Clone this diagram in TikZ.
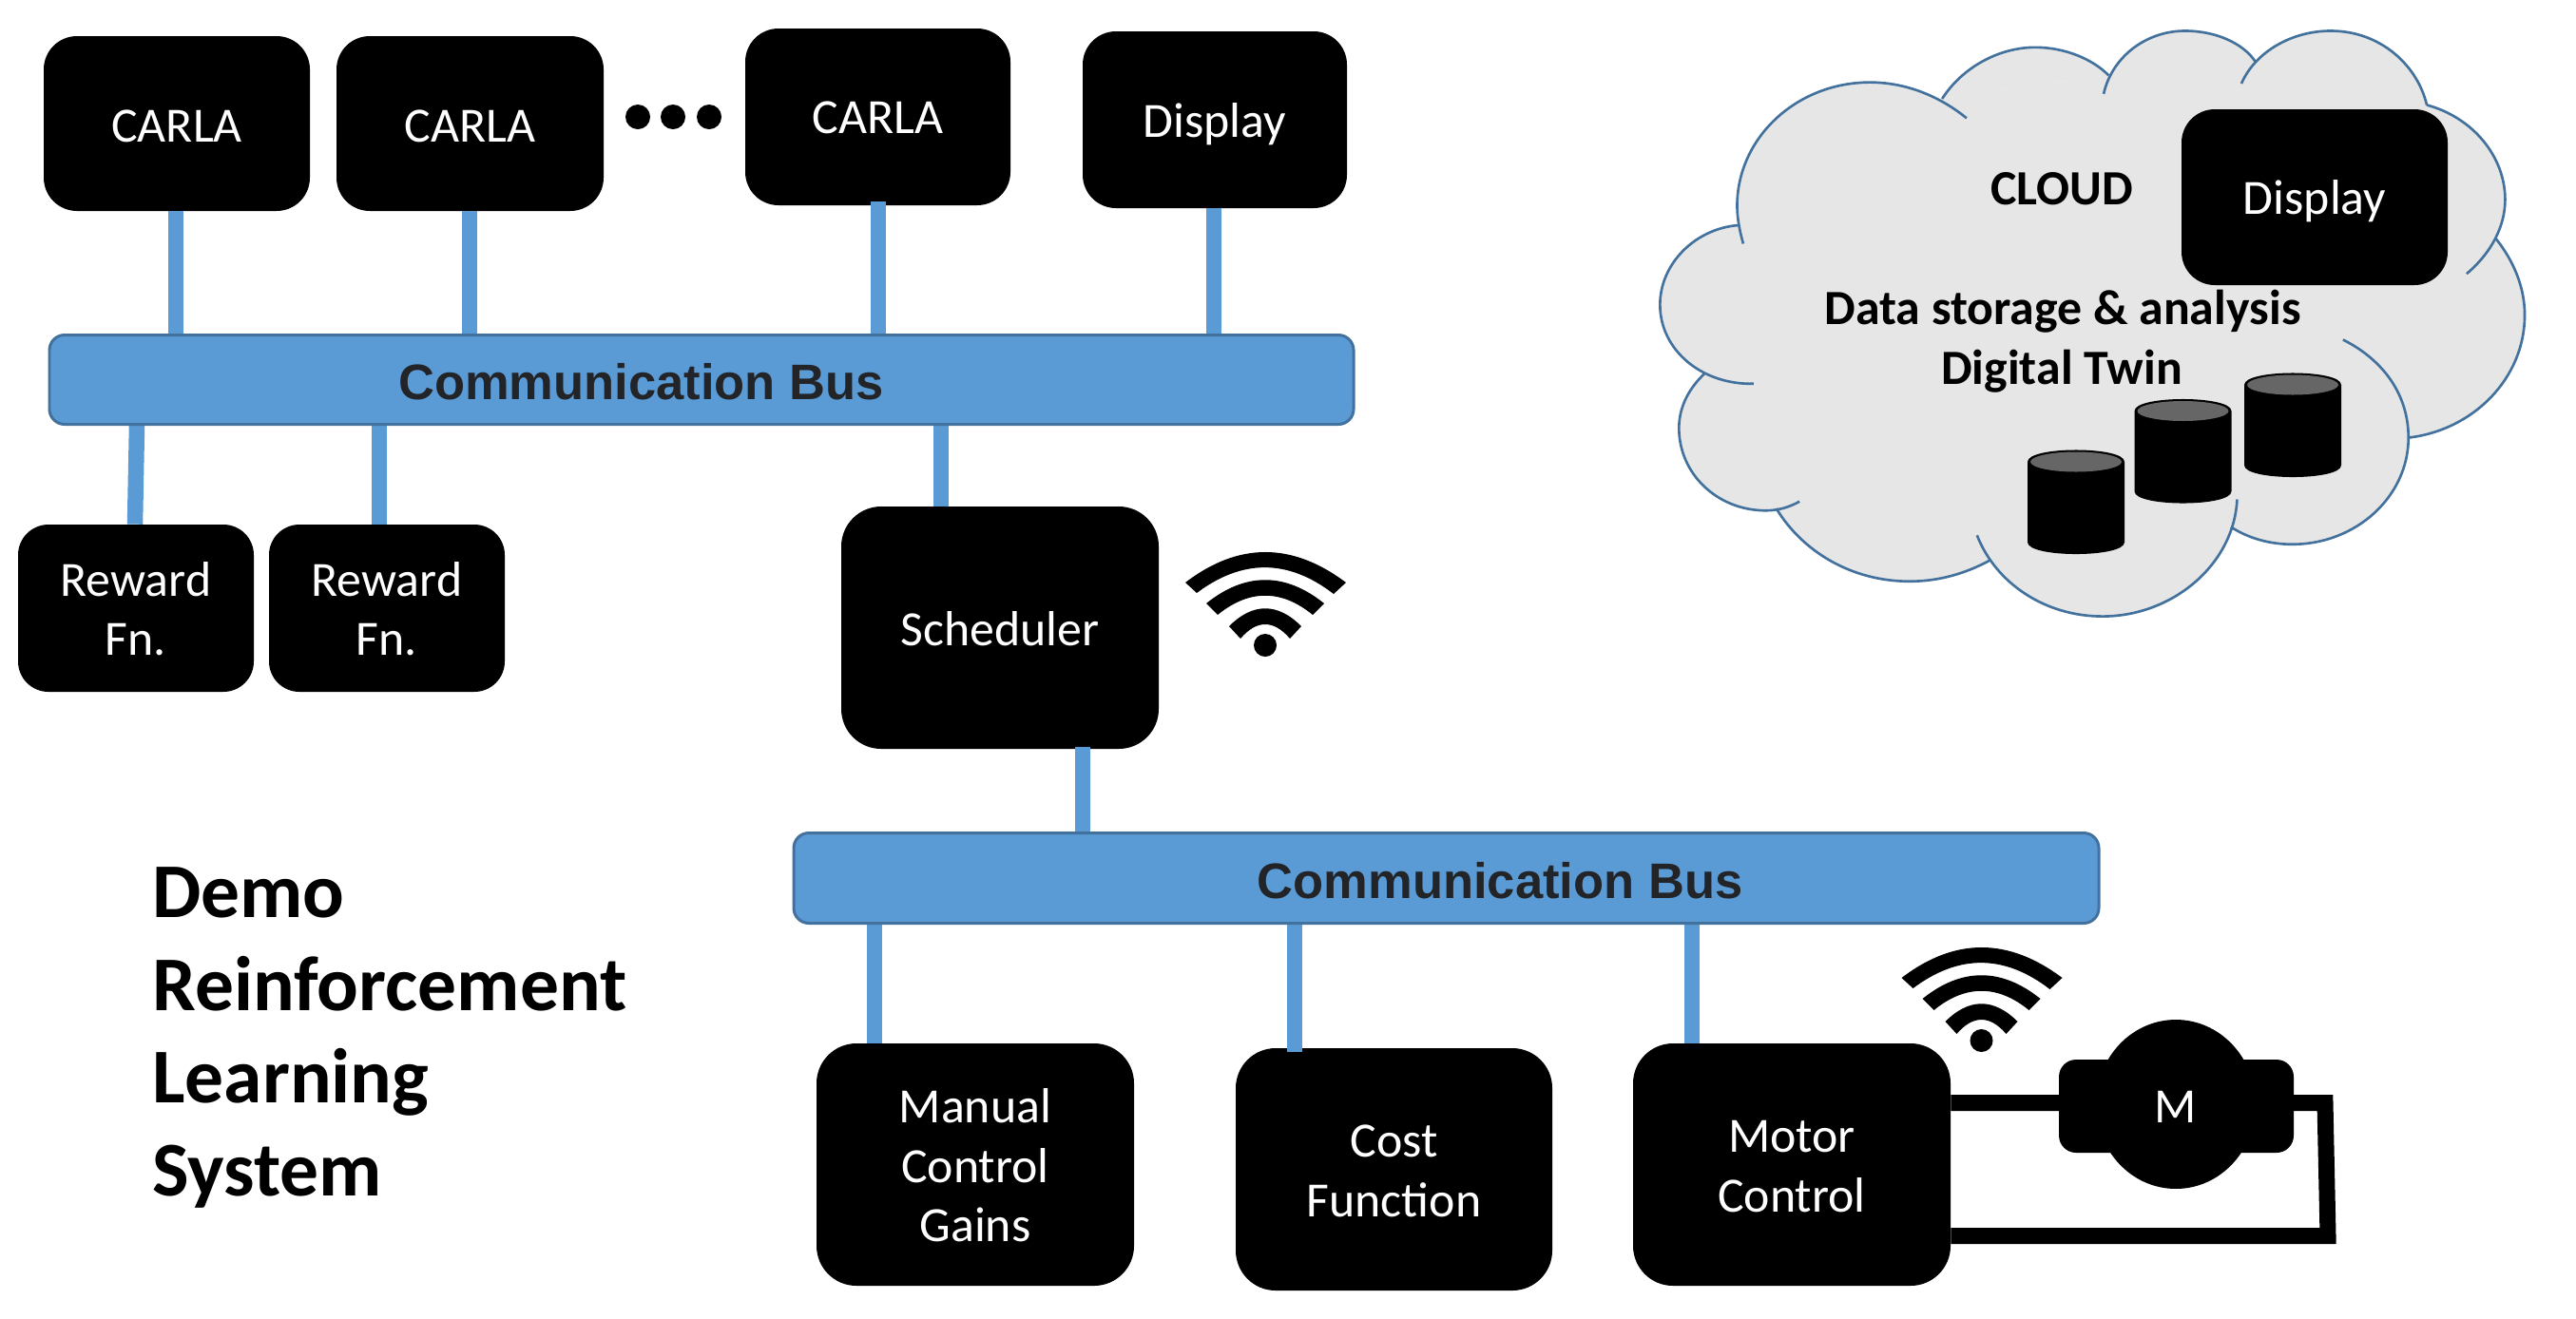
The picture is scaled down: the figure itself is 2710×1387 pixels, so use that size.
\documentclass[tikz,border=0pt]{standalone}
\usepackage{fontspec}
\setmainfont{Carlito}
\newfontfamily\busfamily{Liberation Sans}
\usetikzlibrary{shapes.geometric}
\pgfdeclarelayer{boxes}
\pgfdeclarelayer{conn}
\pgfsetlayers{boxes,conn,main}
\definecolor{busblue}{HTML}{5B9BD5}
\definecolor{busedge}{HTML}{41719C}
\definecolor{cloudgray}{HTML}{E6E6E6}
\definecolor{bustext}{HTML}{222428}
\definecolor{capgray}{HTML}{666666}
\newcommand{\lowone}[1]{\raisebox{-1.4pt}[\height][\depth]{#1}}
\newcommand{\lowhalf}[1]{\raisebox{-0.6pt}[\height][\depth]{#1}}
\newcommand{\lowmany}[1]{\raisebox{-3.4pt}[\height][\depth]{\begin{tabular}{@{}c@{}}#1\end{tabular}}}
\tikzset{
  blackbox/.style n args={3}{fill=black,text=white,inner sep=0pt,
    font=\fontsize{29.5pt}{35.7pt}\selectfont,
    minimum width=#1*0.02cm,minimum height=#2*0.02cm,rounded corners=#3*0.02cm},
  busbar/.style n args={2}{fill=busblue,draw=busedge,line width=1.7pt,inner sep=0pt,
    minimum width=#1*0.02cm,minimum height=#2*0.02cm,rounded corners=0.32cm},
  buslabel/.style={text=bustext,inner sep=0pt,font=\busfamily\bfseries\fontsize{29.9pt}{35pt}\selectfont},
  busline/.style={draw=busblue,line width=0.33cm},
  wire/.style={draw=black,line width=0.34cm,miter limit=10},
  cloudfill/.style={fill=cloudgray},
  cloudline/.style={draw=busedge,line width=1.5pt},
  cloudtext/.style={inner sep=0pt,anchor=base,font=\bfseries\fontsize{29.5pt}{35pt}\selectfont},
  titletext/.style={inner sep=0pt,anchor=west,align=left,font=\bfseries\fontsize{46.4pt}{55.7pt}\selectfont},
  dbcyl/.pic={
    \fill[black] (-51,12.5) -- (-51,97) .. controls (-51,113.7) and (51,113.7) .. (51,97)
      -- (51,12.5) .. controls (51,-4.2) and (-51,-4.2) .. (-51,12.5) -- cycle;
    \fill[capgray] (0,12.5) ellipse [x radius=48,y radius=10.5];
  },
  wifisign/.pic={
    \fill[black] (0,0) circle [radius=12];
    \fill[black] (-84,-66) .. controls (-28,-108.7) and (28,-108.7) .. (85,-66)
      -- (72,-54) .. controls (24,-91) and (-24,-91) .. (-72,-55) -- cycle;
    \fill[black] (-62,-44) .. controls (-21,-77) and (21,-77) .. (62,-44)
      -- (50,-32) .. controls (17,-59) and (-17,-59) .. (-50,-32) -- cycle;
    \fill[black] (-38,-20) .. controls (-13,-45) and (13,-45) .. (38,-20)
      -- (26,-7) .. controls (9,-27) and (-9,-27) .. (-26,-7) -- cycle;
  }
}
\newcommand{\cloudfilllobe}[1]{\fill[cloudfill] #1;}
\newcommand{\cloudstrokelobe}[1]{\draw[cloudline] #1;}
\newcommand{\cloudlobes}[1]{%
  #1{(533,240) .. controls (565,165) and (625,115) .. (685,115) .. controls (735,115) and (780,145) .. (805,183)}
  #1{(797,228) .. controls (810,140) and (865,75) .. (930,75) .. controls (980,75) and (1025,105) .. (1045,150)}
  #1{(1022,203) .. controls (1045,125) and (1105,75) .. (1168,75) .. controls (1250,75) and (1310,160) .. (1325,255)}
  #1{(1325,255) .. controls (1400,285) and (1453,380) .. (1453,485) .. controls (1453,550) and (1430,615) .. (1390,665)}
  #1{(1437,578) .. controls (1468,635) and (1485,700) .. (1485,765) .. controls (1485,920) and (1400,1045) .. (1295,1063)}
  #1{(1188,825) .. controls (1255,875) and (1295,960) .. (1295,1063) .. controls (1295,1205) and (1210,1322) .. (1105,1322) .. controls (1068,1322) and (1033,1307) .. (1005,1280)}
  #1{(1015,1213) .. controls (1010,1370) and (910,1497) .. (795,1497) .. controls (700,1497) and (620,1415) .. (590,1300)}
  #1{(612,1360) .. controls (572,1393) and (527,1412) .. (480,1412) .. controls (385,1412) and (305,1340) .. (262,1235)}
  #1{(300,1218) .. controls (283,1232) and (265,1240) .. (245,1240) .. controls (165,1240) and (103,1150) .. (103,1040) .. controls (103,990) and (118,945) .. (145,907)}
  #1{(225,932) .. controls (140,935) and (72,850) .. (72,740) .. controls (72,640) and (130,555) .. (200,547)}
  #1{(208,592) .. controls (202,560) and (198,530) .. (198,500) .. controls (198,335) and (295,200) .. (415,200) .. controls (475,200) and (530,235) .. (573,287)}
}
\begin{document}
\begin{tikzpicture}[x=0.02cm,y=-0.02cm]
\useasboundingbox (0,0) rectangle (2710,1387);

% black boxes
\begin{pgfonlayer}{boxes}
\fill[white] (0,0) rectangle (2710,1387);
\node[blackbox={280}{184}{35}] (c1) at (186,130) {\lowone{CARLA}};
\node[blackbox={281}{184}{35}] (c2) at (494.5,130) {\lowone{CARLA}};
\node[blackbox={279}{186}{35}] (c3) at (923.5,123) {\lowhalf{CARLA}};
\node[blackbox={278}{186}{35},text depth=0pt] (d1) at (1278,126) {Display};
\node[blackbox={248}{176}{32}] (r1) at (143,640) {\lowmany{Reward\\Fn.}};
\node[blackbox={248}{176}{32}] (r2) at (407,640) {\lowmany{Reward\\Fn.}};
\node[blackbox={334}{255}{42}] (sched) at (1052,660.5) {\lowhalf{Scheduler}};
\node[blackbox={334}{255}{42}] (manual) at (1026,1225.5) {\lowmany{Manual\\Control\\Gains}};
\node[blackbox={333}{255}{42}] (cost) at (1466.5,1230.5) {\lowmany{Cost\\Function}};
\node[blackbox={334}{255}{42}] (motorctl) at (1885,1225.5) {\lowmany{Motor\\Control}};
\end{pgfonlayer}

% dots between the simulators
\fill[black] (671,123) circle [radius=13];
\fill[black] (708,123) circle [radius=13];
\fill[black] (746,123) circle [radius=13];

% buses
\node[busbar={1372}{94}] (bus1) at (738,399.5) {};
\node[busbar={1373}{95}] (bus2) at (1521.5,924) {};
\node[buslabel] (bus1label) at (674.5,402) {Communication Bus};
\node[buslabel] (bus2label) at (1578,927) {Communication Bus};

% connectors
\begin{pgfonlayer}{conn}
\draw[busline] (185,0 |- c1.south) -- (185,0 |- bus1.north);
\draw[busline] (494,0 |- c2.south) -- (494,0 |- bus1.north);
\draw[busline,shorten <=-2.5pt] (924,0 |- c3.south) -- (924,0 |- bus1.north);
\draw[busline] (1277,0 |- d1.south) -- (1277,0 |- bus1.north);
\draw[busline] (144,0 |- bus1.south) -- (142,0 |- r1.north);
\draw[busline] (399,0 |- bus1.south) -- (399,0 |- r2.north);
\draw[busline] (990,0 |- bus1.south) -- (990,0 |- sched.north);
\draw[busline,shorten <=-1.5pt] (1139,0 |- sched.south) -- (1139,0 |- bus2.north);
\draw[busline] (920,0 |- bus2.south) -- (920,0 |- manual.north);
\draw[busline,shorten >=-2.5pt] (1362,0 |- bus2.south) -- (1362,0 |- cost.north);
\draw[busline] (1780,0 |- bus2.south) -- (1780,0 |- motorctl.north);
\end{pgfonlayer}

% wireless signs
\pic at (1331,679) {wifisign};
\pic at (2084.5,1095) {wifisign};

% motor
\coordinate (wirea) at (2446,1160.5);
\coordinate (wireb) at (2449,1300.5);
\draw[wire] (motorctl.east |- wirea) -- (wirea) -- (wireb) -- (motorctl.east |- wireb);
\node[fill=black,inner sep=0pt,minimum width=4.94cm,minimum height=1.96cm,rounded corners=0.36cm] (motorbody) at (2289.5,1164) {};
\node[ellipse,fill=black,text=white,inner sep=0pt,minimum width=3.36cm,minimum height=3.56cm,font=\fontsize{29.5pt}{35.7pt}\selectfont] (motorcase) at (2289,1162) {\lowone{M}};

% cloud
\begin{scope}[shift={(1700,0)},x=0.012882cm,y=-0.008673cm]
\fill[cloudfill] (533,240) -- (805,183) -- (1045,150) -- (1325,255) -- (1437,578) -- (1295,1063) -- (1005,1280) -- (612,1360) -- (262,1235) -- (145,907) -- (200,547) -- cycle;
\cloudlobes{\cloudfilllobe}
\cloudlobes{\cloudstrokelobe}
\end{scope}
\node[blackbox={280}{185}{35},text depth=0pt] (d2) at (2435,207.5) {Display};
\node[cloudtext] (cloudname) at (2169,215) {CLOUD};
\node[cloudtext] (storage) at (2170,341) {Data storage \& analysis};
\node[cloudtext] (twin) at (2169,404) {Digital Twin};
\pic at (2184,473.5) {dbcyl};
\pic at (2296.5,420) {dbcyl};
\pic at (2412,392.5) {dbcyl};

% title
\node[titletext] (title) at (160,1092) {Demo\\Reinforcement\\Learning\\System};
\end{tikzpicture}
\end{document}
